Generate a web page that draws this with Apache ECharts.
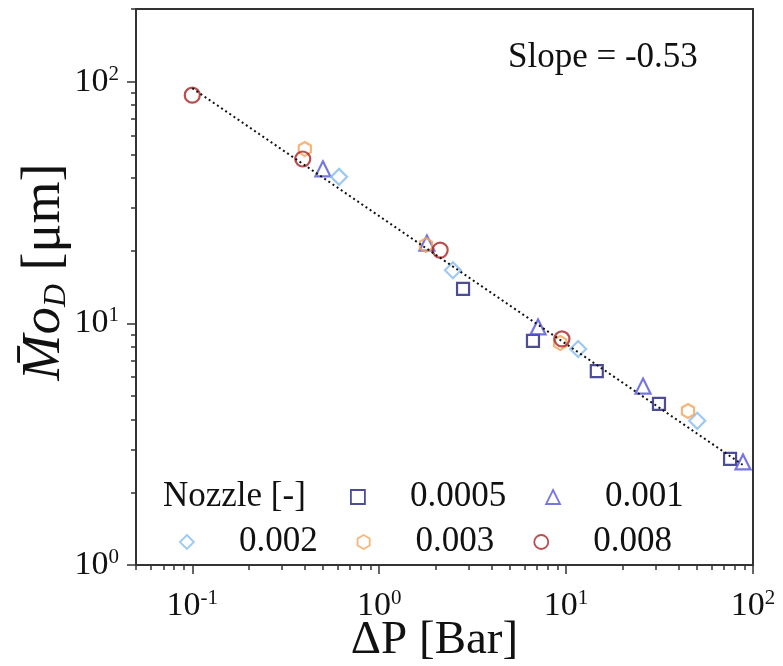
<!DOCTYPE html>
<html><head><meta charset="utf-8">
<script src="https://cdn.jsdelivr.net/npm/echarts@6/dist/echarts.min.js"></script>
<style>html,body{margin:0;padding:0;background:#fff}#c{width:783px;height:666px}</style>
</head><body><div id="c"></div>
<script>
// ---- data ----
const nozzles = ['0.0005', '0.001', '0.002', '0.003', '0.008'];
const sqX  = [2.81, 6.65, 14.6, 31.4, 75.4];
const sqY  = [13.9, 8.46, 6.35, 4.64, 2.75];
const triX = [0.50, 1.80, 7.08, 25.8, 88.4];
const triY = [43.6, 21.5, 9.67, 5.50, 2.67];
const diaX = [0.61, 2.48, 11.6, 50.3];
const diaY = [40.4, 16.6, 7.83, 3.95];
const hexX = [0.40, 1.78, 9.3, 44.9];
const hexY = [52.7, 21.1, 8.3, 4.34];
const cirX = [0.10, 0.39, 2.12, 9.5];
const cirY = [88, 47.9, 20.1, 8.62];
const fitX = [0.1, 88];
const fitY = [94, 2.6];
const xMajor = [0.1, 1, 10, 100];
const xMinor = [0.05, 0.06, 0.07, 0.08, 0.09, 0.2, 0.3, 0.4, 0.5, 0.6, 0.7, 0.8, 0.9,
                2, 3, 4, 5, 6, 7, 8, 9, 20, 30, 40, 50, 60, 70, 80, 90];
const yMajor = [1, 10, 100];
const yMinor = [2, 3, 4, 5, 6, 7, 8, 9, 20, 30, 40, 50, 60, 70, 80, 90, 200];

const F = 'Liberation Serif';
const zip = (a, b) => a.map((v, i) => [v, b[i]]);
const hexPath = 'path://M0,-1L0.866,-0.5L0.866,0.5L0,1L-0.866,0.5L-0.866,-0.5Z';
const colors = ['#1f1f7e', '#5454dc', '#86bcec', '#f4a458', '#a82222'];
const symbols = ['rect', 'triangle', 'diamond', hexPath, 'circle'];
const sizes = [12, 15, 16, 14, 15];
const sets = [zip(sqX, sqY), zip(triX, triY), zip(diaX, diaY), zip(hexX, hexY), zip(cirX, cirY)];

const expLabel = v => '{b|10}{s|' + Math.round(Math.log10(v)) + '}';
const labelRich = {
  b: {fontFamily: F, fontSize: 34, color: '#111', lineHeight: 36},
  s: {fontFamily: F, fontSize: 21, color: '#111', lineHeight: 21, verticalAlign: 'top'}
};

const series = nozzles.map((n, i) => ({
  name: n, type: 'scatter', data: sets[i],
  symbol: symbols[i], symbolSize: sizes[i], symbolKeepAspect: true,
  itemStyle: {color: 'rgba(255,255,255,0)', borderColor: colors[i], borderWidth: 2.2},
  z: 2 + i
}));
series.push({
  type: 'line', data: zip(fitX, fitY), symbol: 'none', z: 20, silent: true,
  lineStyle: {color: '#111', width: 2, type: [2, 3]}
});

const legendBase = {
  orient: 'horizontal', padding: 0, itemWidth: 14, itemHeight: 14, itemGap: 39,
  selectedMode: false,
  itemStyle: {borderWidth: 1.8},
  textStyle: {fontFamily: F, fontSize: 35, color: '#111', lineHeight: 36, padding: [0, 0, 0, 40]}
};

const chart = echarts.init(document.getElementById('c'), null, {renderer: 'canvas'});
chart.setOption({
  animation: false,
  backgroundColor: '#fff',
  grid: {left: 136, right: 30, top: 9, bottom: 101, show: true, borderColor: '#333', borderWidth: 2,
         containLabel: false, outerBoundsMode: 'none'},
  xAxis: [{
    type: 'log', min: 0.05, max: 100, position: 'bottom',
    name: 'ΔP [Bar]', nameLocation: 'middle', nameGap: 52, nameMoveOverlap: false,
    nameTextStyle: {fontFamily: F, fontSize: 47, color: '#111', padding: [0, 20, 0, 0]},
    axisLine: {lineStyle: {color: '#333', width: 2}},
    axisTick: {customValues: xMajor, length: 9, lineStyle: {color: '#333', width: 1.5}},
    axisLabel: {customValues: xMajor, margin: 23, formatter: expLabel, rich: labelRich},
    splitLine: {show: false}
  }, {
    type: 'log', min: 0.05, max: 100, position: 'bottom',
    axisLine: {show: false},
    axisTick: {customValues: xMinor, length: 5, lineStyle: {color: '#333', width: 1.5}},
    axisLabel: {show: false}, splitLine: {show: false}
  }],
  yAxis: [{
    type: 'log', min: 1, max: 200, position: 'left',
    name: '{i|M\u0304o}{d|D}{n| [μm]}', nameLocation: 'middle', nameGap: 63, nameRotate: 90,
    nameMoveOverlap: false,
    nameTextStyle: {
      padding: [0, 0, 0, 30],
      rich: {
        i: {fontFamily: F, fontStyle: 'italic', fontSize: 55, color: '#111', lineHeight: 56},
        d: {fontFamily: F, fontStyle: 'italic', fontSize: 32, color: '#111', lineHeight: 30, verticalAlign: 'bottom'},
        n: {fontFamily: F, fontSize: 54, color: '#111', lineHeight: 56}
      }
    },
    axisLine: {lineStyle: {color: '#333', width: 2}},
    axisTick: {customValues: yMajor, length: 9, lineStyle: {color: '#333', width: 1.5}},
    axisLabel: {customValues: yMajor, margin: 17, formatter: expLabel, rich: labelRich},
    splitLine: {show: false}
  }, {
    type: 'log', min: 1, max: 200, position: 'left',
    axisLine: {show: false},
    axisTick: {customValues: yMinor, length: 5, lineStyle: {color: '#333', width: 1.5}},
    axisLabel: {show: false}, splitLine: {show: false}
  }],
  legend: [
    Object.assign({}, legendBase, {data: nozzles.slice(0, 2), left: 350, top: 479}),
    Object.assign({}, legendBase, {data: nozzles.slice(2), left: 179, top: 524})
  ],
  graphic: [
    {type: 'text', left: 163, top: 479, style: {text: 'Nozzle [-]', font: '35px "' + F + '"', fill: '#111', lineHeight: 36}},
    {type: 'text', left: 508, top: 40, style: {text: 'Slope = -0.53', font: '35px "' + F + '"', fill: '#111', lineHeight: 36}}
  ],
  series: series
});
</script></body></html>
